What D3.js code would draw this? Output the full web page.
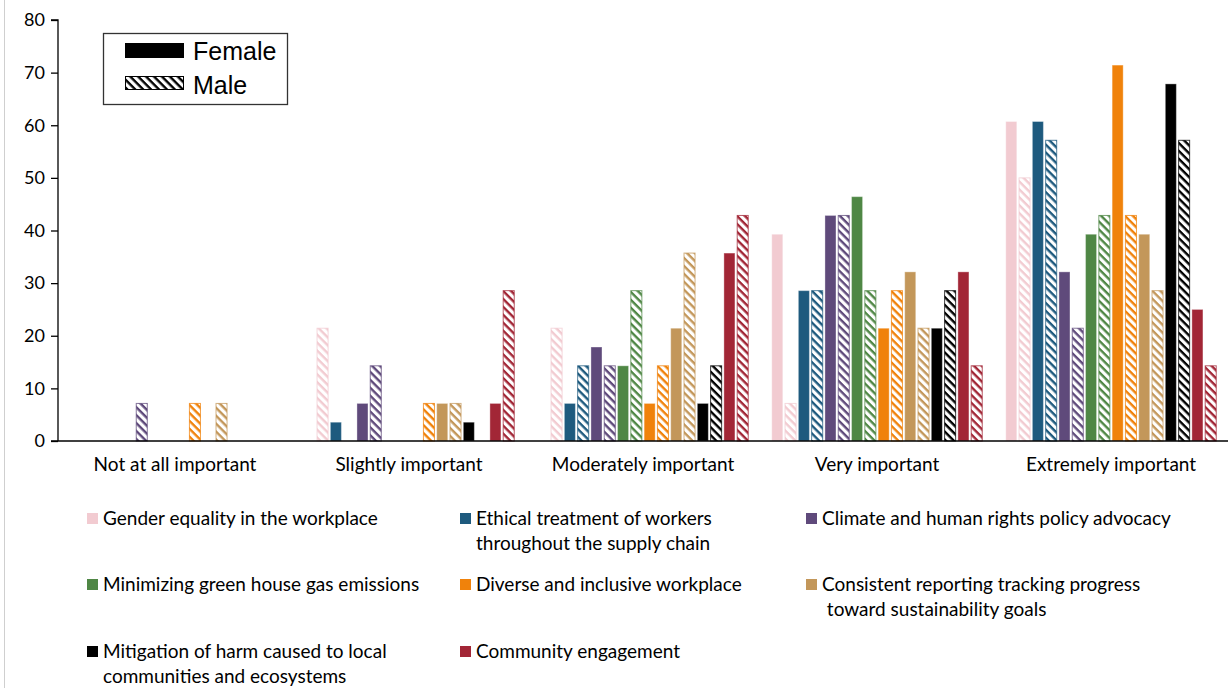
<!DOCTYPE html>
<html>
<head>
<meta charset="utf-8">
<script src="https://cdn.jsdelivr.net/npm/d3@7"></script>
<style>
  html, body { margin: 0; padding: 0; background: #fff; }
  svg { display: block; }
</style>
</head>
<body>
<svg id="chart" width="1228" height="688"></svg>
<script>
// ---- Data ----
const categories = ["Not at all important", "Slightly important", "Moderately important", "Very important", "Extremely important"];
const seriesNames = [
  "Gender equality in the workplace",
  "Ethical treatment of workers throughout the supply chain",
  "Climate and human rights policy advocacy",
  "Minimizing green house gas emissions",
  "Diverse and inclusive workplace",
  "Consistent reporting tracking progress toward sustainability goals",
  "Mitigation of harm caused to local communities and ecosystems",
  "Community engagement"
];
const seriesColors = ["#F2CBD1", "#1E5A7E", "#5F4A7B", "#4F8745", "#F0820B", "#C3975A", "#000000", "#A22636"];
const genders = ["Female", "Male"];
// values per series: [category][gender] in %
const genderEquality      = { Female: [0, 0, 0, 39.29, 60.71],      Male: [0, 21.43, 21.43, 7.14, 50.0] };
const ethicalTreatment    = { Female: [0, 3.57, 7.14, 28.57, 60.71], Male: [0, 0, 14.29, 28.57, 57.14] };
const climatePolicy       = { Female: [0, 7.14, 17.86, 42.86, 32.14], Male: [7.14, 14.29, 14.29, 42.86, 21.43] };
const greenhouseGas       = { Female: [0, 0, 14.29, 46.43, 39.29],    Male: [0, 0, 28.57, 28.57, 42.86] };
const diverseWorkplace    = { Female: [0, 0, 7.14, 21.43, 71.43],     Male: [7.14, 7.14, 14.29, 28.57, 42.86] };
const consistentReporting = { Female: [0, 7.14, 21.43, 32.14, 39.29], Male: [7.14, 7.14, 35.71, 21.43, 28.57] };
const harmMitigation      = { Female: [0, 3.57, 7.14, 21.43, 67.86],  Male: [0, 0, 14.29, 28.57, 57.14] };
const communityEngagement = { Female: [0, 7.14, 35.71, 32.14, 25.0], Male: [0, 28.57, 42.86, 14.29, 14.29] };
const seriesValues = [genderEquality, ethicalTreatment, climatePolicy, greenhouseGas, diverseWorkplace, consistentReporting, harmMitigation, communityEngagement];
const yTicks = [0, 10, 20, 30, 40, 50, 60, 70, 80];
// legend label lines (as wrapped in the original)
const legendLines = [
  ["Gender equality in the workplace"],
  ["Ethical treatment of workers", "throughout the supply chain"],
  ["Climate and human rights policy advocacy"],
  ["Minimizing green house gas emissions"],
  ["Diverse and inclusive workplace"],
  ["Consistent reporting tracking progress", " toward sustainability goals"],
  ["Mitigation of harm caused to local", "communities and ecosystems"],
  ["Community engagement"]
];

// ---- Layout ----
const svg = d3.select("#chart");
const FONT = "Lato, 'Open Sans', sans-serif";
const plot = { left: 58, right: 1228, top: 20, bottom: 441 };

// left page border
svg.append("line").attr("x1", 4.5).attr("x2", 4.5).attr("y1", 0).attr("y2", 688)
  .attr("stroke", "#cfcfcf").attr("stroke-width", 1);

const x0 = d3.scaleBand().domain(categories).range([plot.left, plot.right]).padding(0);
const slots = d3.range(16);
const x1 = d3.scaleBand().domain(slots).range([0, x0.bandwidth()]).paddingInner(0.17).paddingOuter(0.885);
const y = d3.scaleLinear().domain([0, 80]).range([plot.bottom, plot.top]);

// patterns
const defs = svg.append("defs");
function makePattern(id, color) {
  const p = defs.append("pattern").attr("id", id).attr("patternUnits", "userSpaceOnUse")
    .attr("width", 5.6).attr("height", 5.6).attr("patternTransform", "rotate(45)");
  p.append("rect").attr("width", 5.6).attr("height", 5.6).attr("fill", "#fff");
  p.append("rect").attr("x", 0).attr("y", 0).attr("width", 5.6).attr("height", 2.4).attr("fill", color);
}
seriesColors.forEach((c, i) => makePattern("hatch" + i, c));
makePattern("hatchLegend", "#000");

// bars
const barData = [];
categories.forEach((cat, ci) => {
  seriesValues.forEach((s, si) => {
    genders.forEach((g, gi) => {
      barData.push({ cat, ci, si, g, gi, slot: si * 2 + gi, value: s[g][ci] });
    });
  });
});

const bars = svg.append("g");
bars.selectAll("rect").data(barData.filter(d => d.value > 0)).join("rect")
  .attr("x", d => x0(d.cat) + x1(d.slot))
  .attr("width", x1.bandwidth())
  .attr("y", d => y(d.value))
  .attr("height", d => y(0) - y(d.value))
  .attr("fill", d => d.g === "Female" ? seriesColors[d.si] : `url(#hatch${d.si})`)
  .attr("stroke", d => d.g === "Female" ? "#ffffff" : seriesColors[d.si])
  .attr("stroke-opacity", d => d.g === "Female" ? 0.35 : 0.75)
  .attr("stroke-width", 1);

// y axis
const yAxis = svg.append("g").attr("transform", `translate(${plot.left},0)`)
  .call(d3.axisLeft(y).tickValues(yTicks).tickSize(7).tickPadding(6));
yAxis.select(".domain").attr("stroke", "#000").attr("stroke-width", 1.3).attr("d", `M-7,${plot.top}H0V${plot.bottom}`);
yAxis.selectAll(".tick line").attr("stroke", "#000").attr("stroke-width", 1.3);
yAxis.selectAll(".tick text").attr("font-family", FONT).attr("font-size", 18).attr("fill", "#000");

// x axis
const xAxis = svg.append("g").attr("transform", `translate(0,${plot.bottom})`)
  .call(d3.axisBottom(x0).tickSize(0).tickPadding(17));
xAxis.select(".domain").attr("stroke", "#000").attr("stroke-width", 1.3)
  .attr("d", `M${plot.left - 7},0H${plot.right}`);
xAxis.selectAll(".tick text").attr("font-family", FONT).attr("font-size", 19).attr("fill", "#000");

// top legend (Female / Male)
const tl = svg.append("g");
tl.append("rect").attr("x", 103.5).attr("y", 33.5).attr("width", 184).attr("height", 71)
  .attr("fill", "#fff").attr("stroke", "#333").attr("stroke-width", 1.3);
tl.append("rect").attr("x", 125).attr("y", 43).attr("width", 59).attr("height", 15).attr("fill", "#000");
tl.append("rect").attr("x", 125.5).attr("y", 76.5).attr("width", 58).attr("height", 13)
  .attr("fill", "url(#hatchLegend)").attr("stroke", "#000").attr("stroke-width", 1);
tl.append("text").attr("x", 193).attr("y", 59.5).text(genders[0])
  .attr("font-family", "'Liberation Sans', Arial, sans-serif").attr("font-size", 25).attr("fill", "#000");
tl.append("text").attr("x", 193).attr("y", 93.5).text(genders[1])
  .attr("font-family", "'Liberation Sans', Arial, sans-serif").attr("font-size", 25).attr("fill", "#000");

// bottom legend
const colX = [87, 460, 806];
const rowY = [519, 585, 652];
const lg = svg.append("g");
seriesNames.forEach((name, i) => {
  const cx = colX[i % 3], cy = rowY[Math.floor(i / 3)];
  lg.append("rect").attr("x", cx).attr("y", cy - 6).attr("width", 11).attr("height", 11).attr("fill", seriesColors[i]);
  const t = lg.append("text").attr("font-family", FONT).attr("font-size", 19).attr("fill", "#000")
    .attr("x", cx + 16).attr("y", cy + 6).attr("xml:space", "preserve");
  legendLines[i].forEach((ln, li) => {
    t.append("tspan").attr("x", cx + 16).attr("y", cy + 6 + li * 25).text(ln);
  });
});
</script>
</body>
</html>
